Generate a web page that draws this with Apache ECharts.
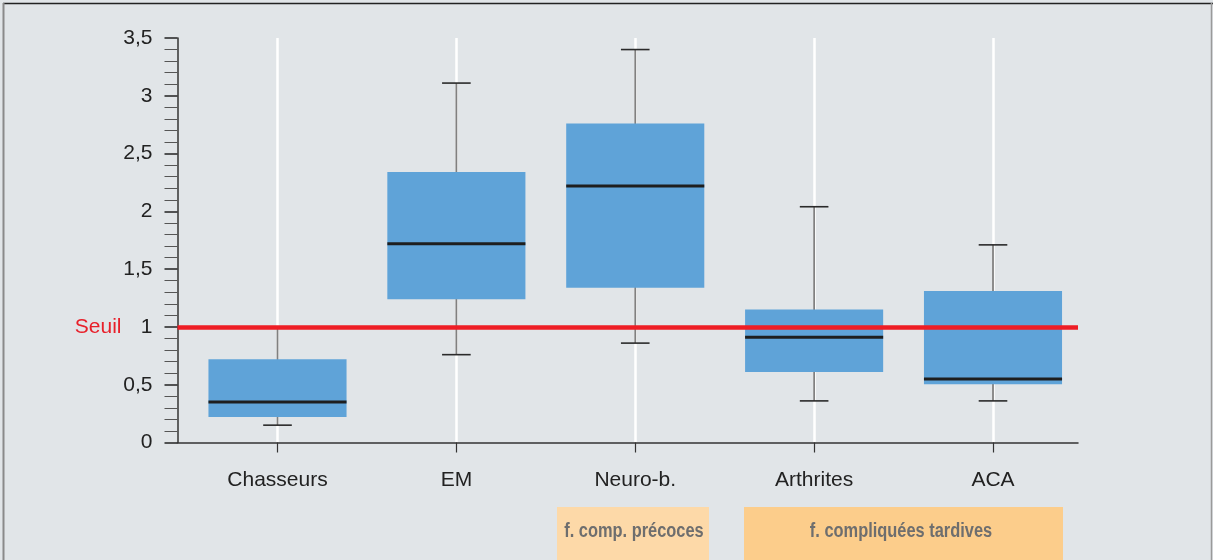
<!DOCTYPE html>
<html>
<head>
<meta charset="utf-8">
<script src="https://cdn.jsdelivr.net/npm/echarts/dist/echarts.min.js"></script>
<style>
  html, body { margin: 0; padding: 0; background: #e1e5e8; }
  #chart { width: 1213px; height: 560px; }
</style>
</head>
<body>
<div id="chart"></div>
<script>
// Categories and five-number summaries for each group
const categories = ['Chasseurs', 'EM', 'Neuro-b.', 'Arthrites', 'ACA'];
const lowWhisker  = [0.15, 0.76, 0.86, 0.36, 0.36];
const q1          = [0.22, 1.24, 1.34, 0.61, 0.505];
const median      = [0.35, 1.72, 2.22, 0.91, 0.55];
const q3          = [0.72, 2.34, 2.76, 1.15, 1.31];
const highWhisker = [1.00, 3.11, 3.40, 2.04, 1.71];

// Threshold line
const threshold = 1;
const thresholdLabel = 'Seuil';

// Y axis range and tick step
const yMin = 0, yMax = 3.5, yStep = 0.5;

// Group banners under the axis
const groupLabels = ['f. comp. précoces', 'f. compliquées tardives'];

const FONT = '"Liberation Sans", Arial, Helvetica, sans-serif';

const boxData = categories.map((c, i) => [i, lowWhisker[i], q1[i], median[i], q3[i], highWhisker[i]]);

const chart = echarts.init(document.getElementById('chart'), null, { renderer: 'canvas' });

chart.setOption({
  backgroundColor: '#e1e5e8',
  animation: false,
  grid: [
    // frame grid: y axis, x baseline, threshold
    { left: 177.5, right: 135, top: 38, bottom: 117.5 },
    // category grid: first/last category centres at the edges
    { left: 277.5, right: 220, top: 38, bottom: 117.5 }
  ],
  xAxis: [
    {
      gridIndex: 0, type: 'value', min: 0, max: 1,
      axisLine: { show: true, lineStyle: { color: '#333', width: 1.5 } },
      axisTick: { show: false }, axisLabel: { show: false }, splitLine: { show: false }
    },
    {
      gridIndex: 1, type: 'category', data: categories, boundaryGap: false,
      axisLine: { show: false },
      axisTick: { show: true, length: 10, lineStyle: { color: '#333', width: 1.2 } },
      axisLabel: { color: '#222', fontSize: 21, fontFamily: FONT, margin: 27 },
      splitLine: { show: true, lineStyle: { color: '#ffffff', width: 2.5 } }
    }
  ],
  yAxis: [
    {
      gridIndex: 0, type: 'value', min: yMin, max: yMax, interval: yStep,
      axisLine: { show: true, lineStyle: { color: '#333', width: 1.5 } },
      axisTick: { show: true, length: 13, lineStyle: { color: '#222', width: 1.5 } },
      minorTick: { show: true, splitNumber: 5, length: 13, lineStyle: { color: '#555', width: 1 } },
      axisLabel: {
        color: '#222', fontSize: 21, fontFamily: FONT, margin: 25,
        formatter: v => String(v).replace('.', ',')
      },
      splitLine: { show: false }
    },
    {
      gridIndex: 1, type: 'value', min: yMin, max: yMax, show: false,
      splitLine: { show: false }
    }
  ],
  series: [
    {
      type: 'custom',
      xAxisIndex: 1, yAxisIndex: 1,
      data: boxData,
      encode: { x: 0, y: [1, 2, 3, 4, 5] },
      z: 2,
      renderItem(params, api) {
        const x = api.value(0);
        const lo = api.coord([x, api.value(1)]);
        const b1 = api.coord([x, api.value(2)]);
        const md = api.coord([x, api.value(3)]);
        const b3 = api.coord([x, api.value(4)]);
        const hi = api.coord([x, api.value(5)]);
        const band = api.size([1, 0])[0];
        const hw = band * 0.386;
        const cw = band * 0.08;
        const cx = lo[0];
        return {
          type: 'group',
          children: [
            { type: 'line', shape: { x1: cx, y1: lo[1], x2: cx, y2: hi[1] },
              style: { stroke: '#808080', lineWidth: 1.8 } },
            { type: 'line', shape: { x1: cx - cw, y1: lo[1], x2: cx + cw, y2: lo[1] },
              style: { stroke: '#2a2a2a', lineWidth: 1.6 } },
            { type: 'line', shape: { x1: cx - cw, y1: hi[1], x2: cx + cw, y2: hi[1] },
              style: { stroke: '#2a2a2a', lineWidth: 1.6 } },
            { type: 'rect', shape: { x: cx - hw, y: b3[1], width: hw * 2, height: b1[1] - b3[1] },
              style: { fill: '#5fa3d8' } },
            { type: 'line', shape: { x1: cx - hw, y1: md[1], x2: cx + hw, y2: md[1] },
              style: { stroke: '#1e1e1e', lineWidth: 3 } }
          ]
        };
      }
    },
    {
      type: 'line',
      xAxisIndex: 0, yAxisIndex: 0,
      data: [[0, threshold], [1, threshold]],
      symbol: 'none',
      lineStyle: { opacity: 0 },
      silent: true,
      markLine: {
        silent: true,
        symbol: ['none', 'none'],
        z: 5,
        data: [{ yAxis: threshold }],
        lineStyle: { color: '#ee1d25', width: 4.5, type: 'solid' },
        label: {
          show: true, position: 'start', distance: 56,
          formatter: thresholdLabel, color: '#e8202a', fontSize: 21, fontFamily: FONT
        }
      }
    }
  ],
  graphic: [
    // outer frame
    { type: 'line', shape: { x1: 3, y1: 3.5, x2: 1213, y2: 3.5 }, style: { stroke: '#222', lineWidth: 1.5 }, silent: true },
    { type: 'line', shape: { x1: 3.5, y1: 3, x2: 3.5, y2: 560 }, style: { stroke: '#8a8a8a', lineWidth: 2 }, silent: true },
    { type: 'line', shape: { x1: 1211.5, y1: 3, x2: 1211.5, y2: 560 }, style: { stroke: '#9a9a9a', lineWidth: 1.5 }, silent: true },
    // group banners (condensed bold caption)
    { type: 'rect', shape: { x: 557, y: 507, width: 152, height: 60 }, style: { fill: '#fdd9a8' }, silent: true },
    { type: 'text', x: 634, y: 531, scaleX: 0.82, style: { text: groupLabels[0], fill: '#6e6e6e', font: 'bold 20px ' + FONT, align: 'center', verticalAlign: 'middle' }, silent: true },
    { type: 'rect', shape: { x: 744, y: 507, width: 319, height: 60 }, style: { fill: '#fccd8b' }, silent: true },
    { type: 'text', x: 901, y: 531, scaleX: 0.82, style: { text: groupLabels[1], fill: '#6e6e6e', font: 'bold 20px ' + FONT, align: 'center', verticalAlign: 'middle' }, silent: true }
  ]
});
</script>
</body>
</html>
